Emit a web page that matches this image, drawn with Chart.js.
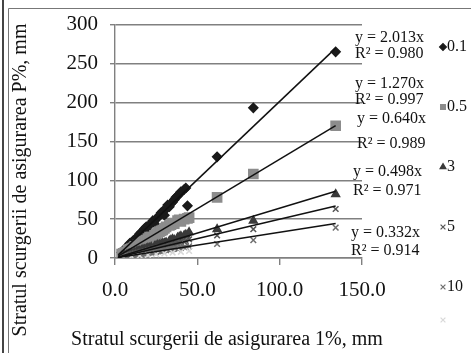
<!DOCTYPE html>
<html>
<head>
<meta charset="utf-8">
<script src="https://cdn.jsdelivr.net/npm/chart.js@4/dist/chart.umd.min.js"></script>
<style>
  html, body { margin: 0; padding: 0; background: #fff; }
  #wrap { width: 471px; height: 353px; position: relative; }
</style>
</head>
<body>
<div id="wrap"><canvas id="c" width="471" height="353"></canvas></div>
<script>
// ---- data ----
const seriesNames = ["0.1", "0.5", "3", "5", "10", ""];
const s01 = [[4,7],[5,9],[6,12],[7,13],[8,15],[9,19],[10,20],[11,22],[12,24],[13,25],[14,27],[15,31],[16,33],[17,34],[18,38],[19,40],[20,36],[21,42],[22,45],[23,48],[24,44],[25,50],[26,52],[27,55],[28,58],[29,60],[30,55],[31,63],[32,68],[33,66],[34,70],[35,72],[36,75],[37,78],[38,80],[39,82],[40,85],[42,88],[43,90],[44,67],[62,130],[84,193],[134,265]];
const s05 = [[4,5],[5,6],[6,7],[7,8],[8,10],[9,11],[10,12],[11,13],[12,15],[13,15],[14,17],[15,18],[16,20],[17,21],[18,22],[19,23],[20,25],[21,27],[22,27],[24,29],[25,31],[26,33],[27,34],[28,35],[29,36],[30,38],[31,40],[33,42],[34,43],[35,45],[36,44],[38,48],[39,49],[40,47],[42,50],[44,51],[45,52],[62,78],[84,108],[134,170]];
const s3  = [[4,2],[5,3],[6,3.5],[7,4],[8,5],[9,5],[10,6],[11,6],[12,7],[13,8],[14,9],[15,9],[16,10],[17,11],[18,11],[19,12],[20,13],[21,13],[22,14],[24,15],[25,16],[26,17],[27,17],[28,18],[29,19],[30,19],[31,20],[33,22],[34,23],[35,24],[36,23],[38,26],[39,27],[40,28],[42,29],[43,30],[45,33],[62,37],[84,48],[134,82]];
const s5  = [[4,2],[5,2],[6,3],[7,3],[8,4],[9,4],[10,5],[11,5],[12,6],[13,6],[14,7],[15,7],[16,8],[17,8],[18,9],[19,9],[20,10],[21,10],[22,11],[24,12],[25,12],[26,13],[27,14],[28,14],[29,14],[30,15],[31,16],[33,16],[34,17],[35,18],[36,18],[38,19],[39,20],[40,21],[42,21],[43,22],[45,24],[62,29],[84,37],[134,63]];
const s10 = [[4,1],[5,1.5],[6,2],[7,2],[8,2.5],[9,3],[10,3],[11,3.5],[12,4],[13,4],[14,4.5],[15,5],[16,5],[17,5.5],[18,6],[19,6],[20,6.5],[21,7],[22,7],[24,8],[25,8],[26,8.5],[27,9],[28,9],[29,9.5],[30,10],[31,10],[33,11],[34,11],[35,11.5],[36,12],[38,12],[39,13],[40,13],[42,14],[43,14],[45,15],[62,18],[84,23],[134,39]];
const sLight = [[5,1],[10,2],[15,3],[20,4],[25,5],[30,6],[35,7],[40,8],[45,9]];
const slopes = [2.013, 1.270, 0.640, 0.498, 0.332];
const r2 = ["0.980", "0.997", "0.989", "0.971", "0.914"];
const trendRange = [2, 134];
const yTicks = [0, 50, 100, 150, 200, 250, 300];
const xTicks = [0, 50, 100, 150];
const xTitle = "Stratul scurgerii de asigurarea 1%, mm";
const yTitle = "Stratul scurgerii de asigurarea P%, mm";

const SERIF = "'Liberation Serif', 'Times New Roman', serif";
const toXY = a => a.map(p => ({x: p[0], y: p[1]}));

const styles = [
  {pointStyle: 'rectRot', radius: 4.5, color: '#1a1a1a'},
  {pointStyle: 'rect', radius: 6.5, color: '#8c8c8c'},
  {pointStyle: 'triangle', radius: 4.5, color: '#3a3a3a'},
  {pointStyle: 'crossRot', radius: 4, color: '#555555'},
  {pointStyle: 'crossRot', radius: 4, color: '#6e6e6e'},
  {pointStyle: 'crossRot', radius: 4, color: '#d8d8d8'}
];
const allSeries = [s01, s05, s3, s5, s10, sLight];

const datasets = [];
// trendlines
slopes.forEach((k, i) => {
  datasets.push({
    type: 'line',
    data: trendRange.map(x => ({x: x, y: k * x})),
    borderColor: '#111', borderWidth: 1.5, pointRadius: 0, fill: false, order: 0
  });
});
allSeries.slice().reverse().forEach((s, ri) => {
  const i = allSeries.length - 1 - ri;
  const st = styles[i];
  datasets.push({
    type: 'scatter',
    data: toXY(s),
    pointStyle: st.pointStyle, pointRadius: st.radius,
    backgroundColor: st.color, borderColor: st.color, borderWidth: 1.5, order: 1
  });
});

const eqLabels = [
  {x: 355, y: 38, ry: 54},
  {x: 355, y: 84, ry: 100},
  {x: 357, y: 119, ry: 144},
  {x: 353, y: 172, ry: 191},
  {x: 351, y: 233, ry: 251}
];
const legendPos = [47, 107, 167, 227, 287, 320];

const deco = {
  id: 'deco',
  beforeDraw(chart) {
    const ctx = chart.ctx;
    ctx.save();
    ctx.fillStyle = '#fff';
    ctx.fillRect(0, 0, chart.width, chart.height);
    ctx.strokeStyle = '#444';
    ctx.lineWidth = 2;
    ctx.beginPath(); ctx.moveTo(3, 0); ctx.lineTo(3, 353); ctx.stroke();
    ctx.lineWidth = 1;
    ctx.strokeStyle = '#777';
    ctx.beginPath(); ctx.moveTo(8.5, 8.5); ctx.lineTo(8.5, 353); ctx.stroke();
    ctx.beginPath(); ctx.moveTo(8.5, 8.5); ctx.lineTo(471, 8.5); ctx.stroke();
    ctx.restore();
  },
  afterDraw(chart) {
    const ctx = chart.ctx;
    ctx.save();
    ctx.fillStyle = '#111';
    ctx.textBaseline = 'middle';
    ctx.textAlign = 'left';
    ctx.font = '16px ' + SERIF;
    slopes.forEach((k, i) => {
      const p = eqLabels[i];
      ctx.fillText('y = ' + k.toFixed(3) + 'x', p.x, p.y);
      ctx.fillText('R\u00B2 = ' + r2[i], p.x, p.ry);
    });
    // legend
    ctx.font = '16px ' + SERIF;
    seriesNames.forEach((n, i) => {
      const st = styles[i];
      const y = legendPos[i];
      ctx.fillStyle = st.color; ctx.strokeStyle = st.color; ctx.lineWidth = 1.2;
      Chart.helpers.drawPoint(ctx, {pointStyle: st.pointStyle, radius: 3.4, rotation: 0, borderWidth: 1.2}, 443, y);
      ctx.fillStyle = '#111';
      ctx.fillText(n, 447, y);
    });
    // axis titles
    ctx.font = '20px ' + SERIF;
    ctx.textAlign = 'center';
    ctx.fillText(xTitle, 227, 340);
    ctx.translate(21, 180);
    ctx.rotate(-Math.PI / 2);
    ctx.fillText(yTitle, 0, 0);
    ctx.restore();
  }
};

new Chart(document.getElementById('c'), {
  data: {datasets: datasets},
  options: {
    responsive: false,
    animation: false,
    devicePixelRatio: 1,
    layout: {padding: {left: 0, right: 109, top: 20, bottom: 0}},
    plugins: {legend: {display: false}, tooltip: {enabled: false}},
    scales: {
      x: {
        type: 'linear', min: 0, max: 150,
        afterBuildTicks: s => { s.ticks = xTicks.map(v => ({value: v})); },
        afterFit: s => { s.height = 95; },
        ticks: {callback: v => Number(v).toFixed(1), color: '#111', font: {family: SERIF, size: 21}, padding: 13, maxRotation: 0},
        grid: {drawOnChartArea: false, drawTicks: true, tickLength: 7, color: '#808080', lineWidth: 1.4},
        border: {display: true, color: '#808080', width: 1.4}
      },
      y: {
        type: 'linear', min: 0, max: 300,
        afterBuildTicks: s => { s.ticks = yTicks.map(v => ({value: v})); },
        afterFit: s => { s.width = 115; },
        ticks: {color: '#111', font: {family: SERIF, size: 21}, padding: 12},
        grid: {drawOnChartArea: true, drawTicks: true, tickLength: 5, color: '#808080', lineWidth: 1.4},
        border: {display: true, color: '#808080', width: 1.4}
      }
    }
  },
  plugins: [deco]
});
</script>
</body>
</html>
